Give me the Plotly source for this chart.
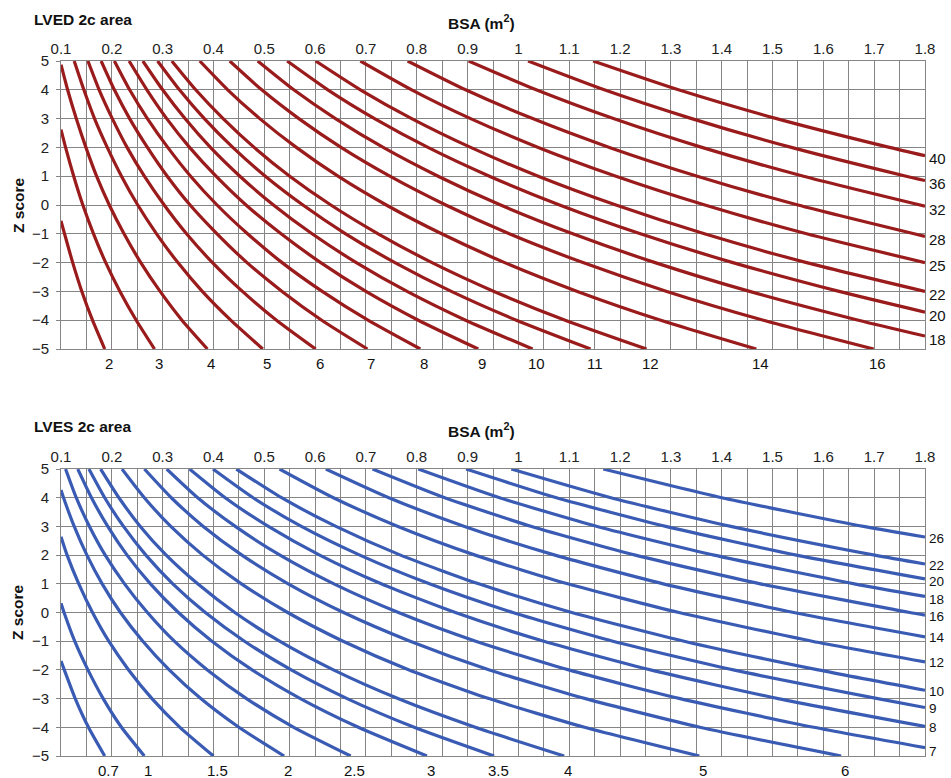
import plotly.graph_objects as go

# ---------------------------------------------------------------------------
# LVED 2c area iso-lines (cm^2): BSA (m^2) vs Z score
# ---------------------------------------------------------------------------
ed_labels = ["2", "3", "4", "5", "6", "7", "8", "9", "10", "11", "12", "14",
             "16", "18", "20", "22", "25", "28", "32", "36", "40"]
ed_bsa = [
    [0.1, 0.107, 0.123, 0.141, 0.162, 0.186],
    [0.1, 0.109, 0.125, 0.143, 0.164, 0.188, 0.216, 0.248, 0.284],
    [0.1, 0.113, 0.130, 0.149, 0.170, 0.195, 0.224, 0.257, 0.295, 0.338, 0.388],
    [0.126, 0.145, 0.166, 0.191, 0.219, 0.251, 0.288, 0.330, 0.378, 0.434, 0.497],
    [0.153, 0.175, 0.201, 0.230, 0.264, 0.303, 0.347, 0.398, 0.457, 0.524, 0.601],
    [0.179, 0.205, 0.235, 0.270, 0.309, 0.354, 0.407, 0.466, 0.535, 0.613, 0.703],
    [0.205, 0.235, 0.270, 0.310, 0.355, 0.407, 0.467, 0.535, 0.614, 0.704, 0.807],
    [0.234, 0.269, 0.308, 0.353, 0.405, 0.464, 0.533, 0.611, 0.700, 0.803, 0.921],
    [0.261, 0.300, 0.344, 0.394, 0.452, 0.518, 0.594, 0.681, 0.781, 0.896, 1.028],
    [0.290, 0.333, 0.382, 0.438, 0.502, 0.576, 0.660, 0.757, 0.868, 0.996, 1.142],
    [0.318, 0.365, 0.419, 0.480, 0.550, 0.631, 0.724, 0.830, 0.952, 1.092, 1.252],
    [0.373, 0.428, 0.491, 0.563, 0.645, 0.740, 0.849, 0.973, 1.116, 1.280, 1.468],
    [0.432, 0.495, 0.568, 0.651, 0.747, 0.857, 0.982, 1.127, 1.292, 1.482, 1.699],
    [0.487, 0.558, 0.640, 0.734, 0.842, 0.965, 1.107, 1.269, 1.455, 1.669, 1.8],
    [0.545, 0.625, 0.717, 0.822, 0.943, 1.081, 1.240, 1.422, 1.631, 1.8],
    [0.601, 0.689, 0.790, 0.906, 1.039, 1.192, 1.366, 1.567, 1.8],
    [0.689, 0.790, 0.906, 1.039, 1.192, 1.367, 1.567, 1.8],
    [0.782, 0.896, 1.028, 1.179, 1.352, 1.550, 1.8],
    [0.902, 1.035, 1.187, 1.361, 1.561, 1.8],
    [1.019, 1.169, 1.341, 1.537, 1.763, 1.8],
    [1.147, 1.315, 1.508, 1.730, 1.8],
]
ed_z = [
    [-0.55, -1, -2, -3, -4, -5],
    [2.62, 2, 1, 0, -1, -2, -3, -4, -5],
    [4.87, 4, 3, 2, 1, 0, -1, -2, -3, -4, -5],
    [5, 4, 3, 2, 1, 0, -1, -2, -3, -4, -5],
    [5, 4, 3, 2, 1, 0, -1, -2, -3, -4, -5],
    [5, 4, 3, 2, 1, 0, -1, -2, -3, -4, -5],
    [5, 4, 3, 2, 1, 0, -1, -2, -3, -4, -5],
    [5, 4, 3, 2, 1, 0, -1, -2, -3, -4, -5],
    [5, 4, 3, 2, 1, 0, -1, -2, -3, -4, -5],
    [5, 4, 3, 2, 1, 0, -1, -2, -3, -4, -5],
    [5, 4, 3, 2, 1, 0, -1, -2, -3, -4, -5],
    [5, 4, 3, 2, 1, 0, -1, -2, -3, -4, -5],
    [5, 4, 3, 2, 1, 0, -1, -2, -3, -4, -5],
    [5, 4, 3, 2, 1, 0, -1, -2, -3, -4, -4.55],
    [5, 4, 3, 2, 1, 0, -1, -2, -3, -3.72],
    [5, 4, 3, 2, 1, 0, -1, -2, -3.0],
    [5, 4, 3, 2, 1, 0, -1, -2.0],
    [5, 4, 3, 2, 1, 0, -1.09],
    [5, 4, 3, 2, 1, -0.04],
    [5, 4, 3, 2, 1, 0.85],
    [5, 4, 3, 2, 1.71],
]

# ---------------------------------------------------------------------------
# LVES 2c area iso-lines (cm^2): BSA (m^2) vs Z score
# ---------------------------------------------------------------------------
es_labels = ["0.7", "1", "1.5", "2", "2.5", "3", "3.5", "4", "5", "6", "7",
             "8", "9", "10", "12", "14", "16", "18", "20", "22", "26"]
es_bsa = [
    [0.1, 0.1065, 0.128, 0.154, 0.186],
    [0.1, 0.106, 0.127, 0.153, 0.183, 0.219, 0.264],
    [0.1, 0.112, 0.135, 0.162, 0.194, 0.233, 0.279, 0.334, 0.400],
    [0.1, 0.105, 0.126, 0.151, 0.181, 0.217, 0.261, 0.313, 0.375, 0.450, 0.539],
    [0.109, 0.130, 0.156, 0.187, 0.225, 0.270, 0.323, 0.388, 0.465, 0.558, 0.670],
    [0.133, 0.160, 0.192, 0.230, 0.276, 0.331, 0.397, 0.476, 0.571, 0.685, 0.820],
    [0.155, 0.186, 0.223, 0.267, 0.320, 0.384, 0.461, 0.553, 0.663, 0.795, 0.952],
    [0.178, 0.214, 0.256, 0.307, 0.369, 0.442, 0.530, 0.636, 0.763, 0.915, 1.090],
    [0.220, 0.264, 0.316, 0.379, 0.455, 0.546, 0.655, 0.785, 0.942, 1.130, 1.356],
    [0.264, 0.317, 0.380, 0.456, 0.547, 0.656, 0.787, 0.943, 1.132, 1.357, 1.635],
    [0.308, 0.369, 0.443, 0.531, 0.637, 0.764, 0.916, 1.099, 1.318, 1.581, 1.8],
    [0.353, 0.423, 0.508, 0.609, 0.730, 0.876, 1.050, 1.260, 1.511, 1.8],
    [0.399, 0.478, 0.573, 0.688, 0.825, 0.989, 1.186, 1.423, 1.707, 1.8],
    [0.445, 0.534, 0.641, 0.768, 0.922, 1.105, 1.326, 1.590, 1.8],
    [0.530, 0.636, 0.763, 0.915, 1.097, 1.316, 1.578, 1.8],
    [0.621, 0.745, 0.894, 1.072, 1.285, 1.542, 1.8],
    [0.713, 0.855, 1.026, 1.230, 1.476, 1.770, 1.8],
    [0.803, 0.963, 1.155, 1.385, 1.661, 1.8],
    [0.897, 1.075, 1.290, 1.547, 1.8],
    [0.986, 1.182, 1.418, 1.701, 1.8],
    [1.167, 1.400, 1.679, 1.8],
]
es_z = [
    [-1.69, -2, -3, -4, -5],
    [0.32, 0, -1, -2, -3, -4, -5],
    [2.64, 2, 1, 0, -1, -2, -3, -4, -5],
    [4.27, 4, 3, 2, 1, 0, -1, -2, -3, -4, -5],
    [5, 4, 3, 2, 1, 0, -1, -2, -3, -4, -5],
    [5, 4, 3, 2, 1, 0, -1, -2, -3, -4, -5],
    [5, 4, 3, 2, 1, 0, -1, -2, -3, -4, -5],
    [5, 4, 3, 2, 1, 0, -1, -2, -3, -4, -5],
    [5, 4, 3, 2, 1, 0, -1, -2, -3, -4, -5],
    [5, 4, 3, 2, 1, 0, -1, -2, -3, -4, -5],
    [5, 4, 3, 2, 1, 0, -1, -2, -3, -4, -4.71],
    [5, 4, 3, 2, 1, 0, -1, -2, -3, -3.97],
    [5, 4, 3, 2, 1, 0, -1, -2, -3, -3.31],
    [5, 4, 3, 2, 1, 0, -1, -2, -2.71],
    [5, 4, 3, 2, 1, 0, -1, -1.72],
    [5, 4, 3, 2, 1, 0, -0.85],
    [5, 4, 3, 2, 1, 0, -0.09],
    [5, 4, 3, 2, 1, 0.56],
    [5, 4, 3, 2, 1.17],
    [5, 4, 3, 2, 1.69],
    [5, 4, 3, 2.63],
]

bsa_tick_labels = ["0.1", "0.2", "0.3", "0.4", "0.5", "0.6", "0.7", "0.8", "0.9",
                   "1", "1.1", "1.2", "1.3", "1.4", "1.5", "1.6", "1.7", "1.8"]
z_ticks = [-5, -4, -3, -2, -1, 0, 1, 2, 3, 4, 5]

# ---------------------------------------------------------------------------
ED_COLOR = "#9a1b1b"
ES_COLOR = "#3a5bb3"
GRID = "#858585"
FONT = "Arial, Liberation Sans, sans-serif"
TICK_SIZE = 15
TITLE_SIZE = 15.5
BSA_MIN, BSA_MAX = 0.1, 1.8
Z_MIN, Z_MAX = -5, 5

# small vertical nudges (px) for crowded end labels on the right edge
es_right_nudge = {"20": -2, "18": -2, "7": -3}

fig = go.Figure()
annotations = []


def add_panel(labels, bsa, zs, color, xa, ya, right_shift, right_size, nudge):
    for lab, xs, ys in zip(labels, bsa, zs):
        fig.add_trace(go.Scatter(
            x=xs, y=ys, mode="lines", xaxis=xa, yaxis=ya,
            line=dict(color=color, width=3.2, shape="spline", smoothing=0.6),
            hoverinfo="skip", showlegend=False))
        if ys[-1] <= Z_MIN:
            # curve leaves through the bottom edge: label under its end
            annotations.append(dict(
                x=xs[-1], y=Z_MIN, xref=xa, yref=ya, text=lab, showarrow=False,
                xanchor="center", yanchor="middle", xshift=4, yshift=-14,
                font=dict(family=FONT, size=TICK_SIZE, color="#111")))
        else:
            # curve leaves through the right edge: label beside its end
            annotations.append(dict(
                x=BSA_MAX, y=ys[-1], xref=xa, yref=ya, text=lab, showarrow=False,
                xanchor="left", yanchor="middle", xshift=2,
                yshift=right_shift + nudge.get(lab, 0),
                font=dict(family=FONT, size=right_size, color="#111")))


add_panel(ed_labels, ed_bsa, ed_z, ED_COLOR, "x", "y", -3, TICK_SIZE, {})
add_panel(es_labels, es_bsa, es_z, ES_COLOR, "x2", "y2", -1, 13.5, es_right_nudge)

tick_vals = [round(BSA_MIN + 0.1 * i, 1) for i in range(len(bsa_tick_labels))]


def x_axis(anchor):
    return dict(
        domain=[0, 1], anchor=anchor, range=[BSA_MIN, BSA_MAX], side="top",
        tickmode="array", tickvals=tick_vals, ticktext=bsa_tick_labels,
        ticks="", tickfont=dict(family=FONT, size=TICK_SIZE, color="#222"),
        showgrid=True, gridcolor=GRID, gridwidth=1,
        minor=dict(tick0=BSA_MIN, dtick=0.05, showgrid=True, gridcolor=GRID, gridwidth=1),
        showline=True, mirror=True, linecolor=GRID, linewidth=1,
        zeroline=False, fixedrange=True)


def y_axis(anchor, domain):
    return dict(
        domain=domain, anchor=anchor, range=[Z_MIN, Z_MAX],
        tickmode="array", tickvals=z_ticks,
        ticks="outside", ticklen=4, tickcolor=GRID, ticklabelstandoff=4,
        tickfont=dict(family=FONT, size=TICK_SIZE, color="#222"),
        showgrid=True, gridcolor=GRID, gridwidth=1,
        showline=True, mirror=True, linecolor=GRID, linewidth=1,
        zeroline=False, fixedrange=True)


top_dom = [0.5856, 1.0]
bot_dom = [0.0, 0.4129]

# panel titles and axis titles
for title, y_title, y_bsa, y_mid in [("LVED 2c area", 1.059, 1.056, 0.7928),
                                      ("LVES 2c area", 0.4734, 0.469, 0.2072)]:
    annotations.append(dict(
        x=-0.0336, y=y_title, xref="paper", yref="paper", text="<b>" + title + "</b>",
        showarrow=False, xanchor="left", yanchor="middle",
        font=dict(family=FONT, size=TITLE_SIZE, color="#111")))
    annotations.append(dict(
        x=0.487, y=y_bsa, xref="paper", yref="paper", text="<b>BSA (m<sup>2</sup>)</b>",
        showarrow=False, xanchor="center", yanchor="middle",
        font=dict(family=FONT, size=TITLE_SIZE, color="#111")))
    annotations.append(dict(
        x=-0.0498, y=y_mid, xref="paper", yref="paper", text="<b>Z score</b>",
        showarrow=False, xanchor="center", yanchor="middle", textangle=-90,
        font=dict(family=FONT, size=TITLE_SIZE, color="#111")))

fig.update_layout(
    width=951, height=778,
    margin=dict(l=61, r=26, t=61, b=22),
    paper_bgcolor="white", plot_bgcolor="white",
    xaxis=x_axis("y"), yaxis=y_axis("x", top_dom),
    xaxis2=x_axis("y2"), yaxis2=y_axis("x2", bot_dom),
    annotations=annotations,
    showlegend=False,
)

fig.write_html("out.html")
